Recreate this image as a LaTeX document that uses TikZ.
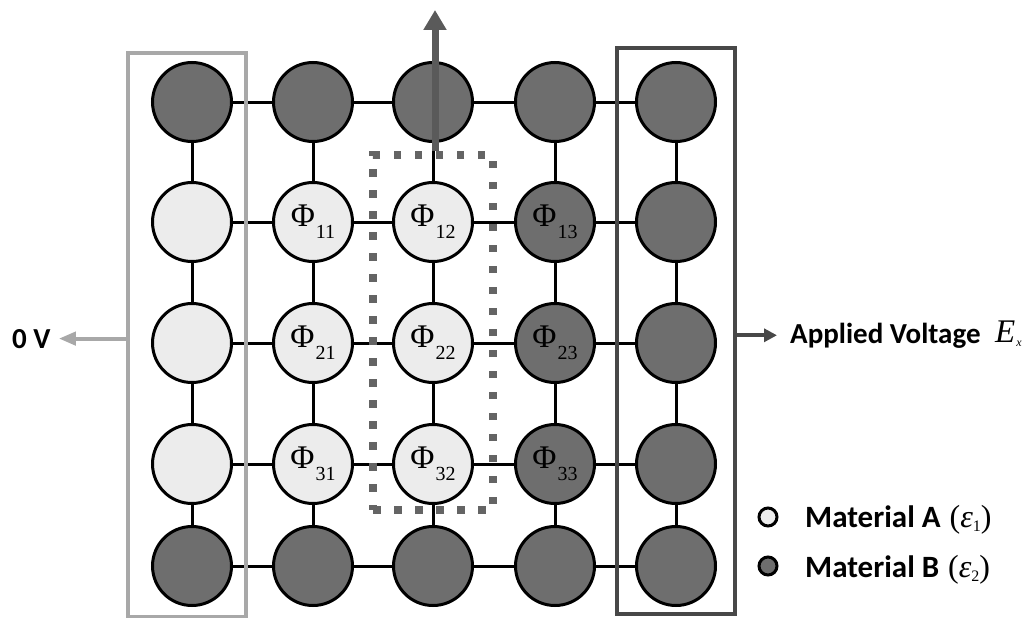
\documentclass[tikz,border=0pt]{standalone}
\usepackage{fontspec}
\setmainfont{Carlito}
\newfontfamily\tmsf{Liberation Serif}
\usetikzlibrary{arrows.meta}
\definecolor{darkfill}{RGB}{110,110,110}
\definecolor{lightfill}{RGB}{236,236,236}
\definecolor{leftgray}{RGB}{168,168,168}
\definecolor{rightgray}{RGB}{72,72,72}
\definecolor{dotgray}{RGB}{100,100,100}
\definecolor{topgray}{RGB}{90,90,90}
\newcommand{\phil}[1]{{\tmsf\fontsize{33}{33}\selectfont Φ}\kern1pt\raisebox{-12pt}{\tmsf\fontsize{20}{20}\selectfont #1}}
\begin{document}
\begin{tikzpicture}[x=1pt,y=-1pt,
  site/.style={circle, draw=black, line width=3pt, minimum size=79pt, inner sep=0pt},
  matA/.style={site, fill=lightfill},
  matB/.style={site, fill=darkfill},
  bond/.style={line width=3pt, black},
  lbl/.style={inner sep=0pt, font=\fontsize{29}{34}\selectfont\bfseries},
  leglbl/.style={inner sep=0pt, font=\fontsize{31}{36}\selectfont\bfseries},
  legdot/.style={circle, draw=black, line width=3pt, minimum size=18pt, inner sep=0pt}]
\useasboundingbox (0,0) rectangle (1036,618);
% row 1
\node[matB] (n11) at (192,102) {};
\node[matB] (n12) at (313,102) {};
\node[matB] (n13) at (433,102) {};
\node[matB] (n14) at (555,102) {};
\node[matB] (n15) at (676,102) {};
% row 2
\node[matA] (n21) at (192,222) {};
\node[matA] (n22) at (313,222) {\phil{11}};
\node[matA] (n23) at (433,222) {\phil{12}};
\node[matB] (n24) at (555,222) {\phil{13}};
\node[matB] (n25) at (676,222) {};
% row 3
\node[matA] (n31) at (192,343) {};
\node[matA] (n32) at (313,343) {\phil{21}};
\node[matA] (n33) at (433,343) {\phil{22}};
\node[matB] (n34) at (555,343) {\phil{23}};
\node[matB] (n35) at (676,343) {};
% row 4
\node[matA] (n41) at (192,464) {};
\node[matA] (n42) at (313,464) {\phil{31}};
\node[matA] (n43) at (433,464) {\phil{32}};
\node[matB] (n44) at (555,464) {\phil{33}};
\node[matB] (n45) at (676,464) {};
% row 5
\node[matB] (n51) at (192,566) {};
\node[matB] (n52) at (313,566) {};
\node[matB] (n53) at (433,566) {};
\node[matB] (n54) at (555,566) {};
\node[matB] (n55) at (676,566) {};
% bonds
\foreach \r in {1,...,5}{
  \foreach \c/\d in {1/2,2/3,3/4,4/5}{
    \draw[bond] (n\r\c) -- (n\r\d);
  }
}
\foreach \c in {1,...,5}{
  \foreach \r/\s in {1/2,2/3,3/4,4/5}{
    \draw[bond] (n\r\c) -- (n\s\c);
  }
}
% boxes
\node[draw=leftgray, line width=3.5pt, minimum width=118pt, minimum height=564pt, inner sep=0pt] (lbox) at (187,335) {};
\node[draw=rightgray, line width=4pt, minimum width=118pt, minimum height=566pt, inner sep=0pt] (rbox) at (676,331) {};
\node[draw=dotgray, line width=7.5pt, dash pattern=on 7.5pt off 13.5pt, minimum width=120pt, minimum height=355pt, inner sep=0pt] (dbox) at (433,332.5) {};
% top arrow
\coordinate (tip) at (435,10);
\draw[line width=7pt, topgray, -{Triangle[length=20pt,width=22pt]}] (dbox.north -| tip) -- (tip);
% side labels and arrows
\node[lbl, anchor=base west] (zv) at (12,348) {0 V};
\draw[line width=4pt, leftgray, -{Triangle[length=17pt,width=13pt]}] (lbox.west |- zv.east) -- ([xshift=8pt]zv.east);
\node[lbl, anchor=base west] (av) at (790,343) {Applied Voltage};
\draw[line width=4pt, rightgray, -{Triangle[length=13pt,width=13pt]}] (rbox.east |- av.west) -- ([xshift=-13pt]av.west);
\node[inner sep=0pt, anchor=base west, font=\tmsf\itshape\fontsize{33}{36}\selectfont] (ex) at (995,342) {E\kern1pt\raisebox{-4pt}{\fontsize{12}{12}\selectfont x}};
% legend
\node[legdot, fill=lightfill] (legA) at (768,517) {};
\node[legdot, fill=darkfill] (legB) at (768,566) {};
\node[leglbl, anchor=base west] (txtA) at (805,527) {Material A\hspace{9pt}{\mdseries\tmsf\fontsize{32}{36}\selectfont(\textit{ε}\raisebox{-4pt}{\fontsize{16}{16}\selectfont 1})}};
\node[leglbl, anchor=base west] (txtB) at (805,577) {Material B\hspace{9pt}{\mdseries\tmsf\fontsize{32}{36}\selectfont(\textit{ε}\raisebox{-4pt}{\fontsize{16}{16}\selectfont 2})}};
\end{tikzpicture}
\end{document}
